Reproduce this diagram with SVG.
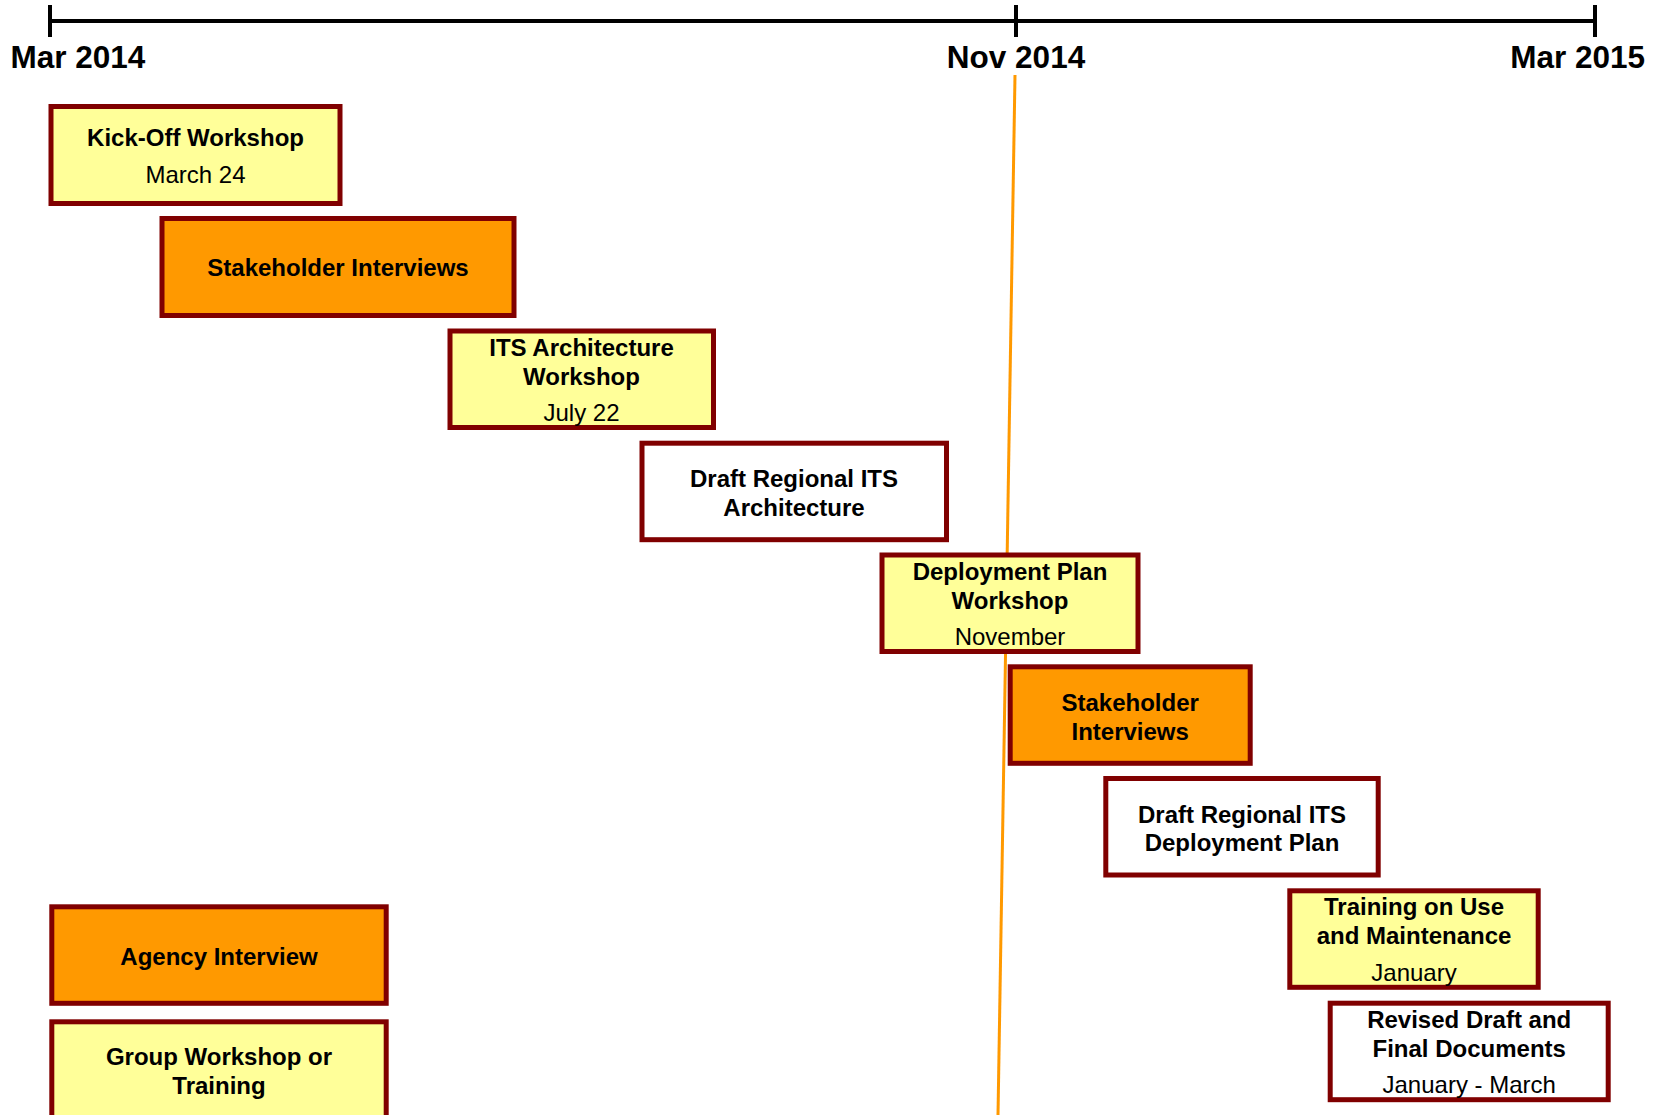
<svg xmlns="http://www.w3.org/2000/svg" width="1655" height="1115" viewBox="0 0 1655 1115">
  <style>
    text { font-family: "Liberation Sans", Arial, sans-serif; fill: #000; text-anchor: middle; }
    .b { font-weight: bold; font-size: 24px; }
    .r { font-size: 24px; }
    .lab { font-weight: bold; font-size: 31.5px; }
    .box { stroke: #800000; stroke-width: 5; }
    .y { fill: #FFFF99; }
    .o { fill: #FF9900; }
    .w { fill: #FFFFFF; }
    .axis { stroke: #000; stroke-width: 4; fill: none; }
  </style>
  <rect x="0" y="0" width="1655" height="1115" fill="#FFFFFF"/>
  <g id="connectors">
    <line x1="1015" y1="75" x2="998" y2="1115" stroke="#FF9900" stroke-width="3"/>
  </g>
  <g id="axis">
    <line class="axis" x1="50" y1="21" x2="1595" y2="21"/>
    <line class="axis" x1="50" y1="5" x2="50" y2="37"/>
    <line class="axis" x1="1016" y1="5" x2="1016" y2="37"/>
    <line class="axis" x1="1595" y1="5" x2="1595" y2="37"/>
    <text class="lab" x="10.5" y="67.5" style="text-anchor:start">Mar 2014</text>
    <text class="lab" x="1016" y="67.5">Nov 2014</text>
    <text class="lab" x="1645" y="67.5" style="text-anchor:end">Mar 2015</text>
  </g>
  <g id="kickoff">
    <rect class="box y" x="51" y="106.5" width="289" height="97"/>
    <text class="b" x="195.5" y="146">Kick-Off Workshop</text>
    <text class="r" x="195.5" y="182.5">March 24</text>
  </g>
  <g id="stakeholder1">
    <rect class="box o" x="162" y="218.5" width="352" height="97"/>
    <text class="b" x="338" y="276">Stakeholder Interviews</text>
  </g>
  <g id="its-workshop">
    <rect class="box y" x="450" y="331" width="263.5" height="96.5"/>
    <text class="b" x="581.5" y="356">ITS Architecture</text>
    <text class="b" x="581.5" y="385">Workshop</text>
    <text class="r" x="581.5" y="421">July 22</text>
  </g>
  <g id="draft-arch">
    <rect class="box w" x="642" y="443.2" width="304.5" height="96.5"/>
    <text class="b" x="794" y="487">Draft Regional ITS</text>
    <text class="b" x="794" y="516">Architecture</text>
  </g>
  <g id="deploy-workshop">
    <rect class="box y" x="882" y="555" width="256" height="96.5"/>
    <text class="b" x="1010" y="580">Deployment Plan</text>
    <text class="b" x="1010" y="609">Workshop</text>
    <text class="r" x="1010" y="645">November</text>
  </g>
  <g id="stakeholder2">
    <rect class="box o" x="1010.2" y="666.8" width="240" height="96.5"/>
    <text class="b" x="1130.2" y="711">Stakeholder</text>
    <text class="b" x="1130.2" y="740">Interviews</text>
  </g>
  <g id="draft-deploy">
    <rect class="box w" x="1105.8" y="778.5" width="272.4" height="96.5"/>
    <text class="b" x="1242" y="822.5">Draft Regional ITS</text>
    <text class="b" x="1242" y="851">Deployment Plan</text>
  </g>
  <g id="training">
    <rect class="box y" x="1289.8" y="890.8" width="248.4" height="96.5"/>
    <text class="b" x="1414" y="915">Training on Use</text>
    <text class="b" x="1414" y="944">and Maintenance</text>
    <text class="r" x="1414" y="981">January</text>
  </g>
  <g id="revised">
    <rect class="box w" x="1330.2" y="1003.2" width="278" height="96.5"/>
    <text class="b" x="1469.2" y="1027.5">Revised Draft and</text>
    <text class="b" x="1469.2" y="1056.8">Final Documents</text>
    <text class="r" x="1469.2" y="1093">January - March</text>
  </g>
  <g id="agency-interview">
    <rect class="box o" x="51.8" y="906.8" width="334.4" height="96.5"/>
    <text class="b" x="219" y="965">Agency Interview</text>
  </g>
  <g id="group-workshop">
    <rect class="box y" x="51.8" y="1021.8" width="334.4" height="110"/>
    <text class="b" x="219" y="1065">Group Workshop or</text>
    <text class="b" x="219" y="1094">Training</text>
  </g>
</svg>
